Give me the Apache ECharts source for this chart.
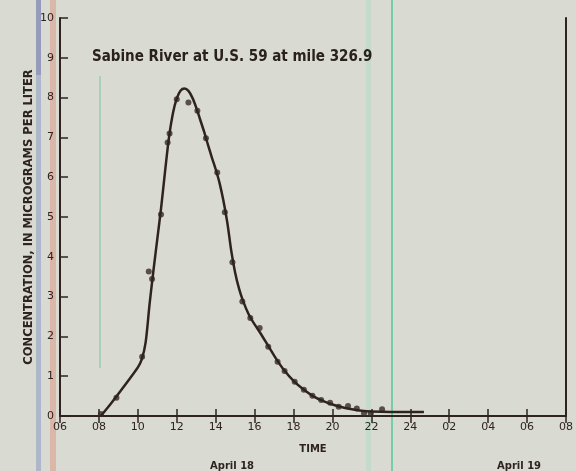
<!DOCTYPE html>
<html>
<head>
<meta charset="utf-8">
<script src="https://cdn.jsdelivr.net/npm/echarts@6/dist/echarts.min.js"></script>
<style>
  html, body { margin: 0; padding: 0; background: #d9dbd2; }
  #chart { width: 576px; height: 471px; }
</style>
</head>
<body>
<div id="chart"></div>
<script>
// hours counted from midnight April 18 (24+ = April 19)
const xTickLabels = ['06', '08', '10', '12', '14', '16', '18', '20', '22', '24', '02', '04', '06', '08'];
const yTickLabels = ['0', '1', '2', '3', '4', '5', '6', '7', '8', '9', '10'];

// sampled points (dots)
const sampleHours = [8.1, 8.9, 10.22, 10.56, 10.73, 11.19, 11.53, 11.63, 12.0, 12.6, 13.06, 13.5,
  14.08, 14.47, 14.86, 15.37, 15.78, 16.26, 16.7, 17.18, 17.54, 18.06, 18.53, 18.97, 19.42,
  19.88, 20.32, 20.8, 21.25, 21.62, 21.97, 22.55];
const sampleConc = [0.05, 0.46, 1.49, 3.63, 3.44, 5.06, 6.87, 7.1, 7.96, 7.88, 7.67, 6.98,
  6.12, 5.12, 3.86, 2.88, 2.46, 2.21, 1.74, 1.36, 1.13, 0.86, 0.66, 0.51, 0.4,
  0.33, 0.23, 0.25, 0.19, 0.07, 0.07, 0.17];

// fitted curve (hand drawn line)
const curveHours = [8.1, 8.6, 9.1, 9.6, 10.0, 10.2, 10.4, 10.6, 10.8, 11.0, 11.2, 11.4, 11.6, 11.8,
  12.0, 12.2, 12.4, 12.6, 12.8, 13.0, 13.2, 13.4, 13.6, 13.8, 14.0, 14.2, 14.4, 14.6, 14.8,
  15.0, 15.2, 15.4, 15.7, 16.0, 16.3, 16.7, 17.1, 17.5, 18.0, 18.5, 19.0, 19.5, 20.0, 20.5,
  21.0, 21.5, 22.0, 23.0, 24.7];
const curveConc = [0, 0.3, 0.62, 0.95, 1.22, 1.42, 1.85, 2.8, 3.65, 4.45, 5.25, 6.15, 7.0, 7.6,
  7.98, 8.18, 8.23, 8.17, 8.0, 7.75, 7.45, 7.15, 6.82, 6.5, 6.2, 5.85, 5.4, 4.85, 4.15,
  3.6, 3.2, 2.9, 2.55, 2.3, 2.08, 1.76, 1.44, 1.16, 0.88, 0.67, 0.5, 0.38, 0.29, 0.22,
  0.17, 0.13, 0.11, 0.1, 0.1];

const ink = '#2f2320';
const chart = echarts.init(document.getElementById('chart'));

chart.setOption({
  backgroundColor: '#d9dbd2',
  animation: false,
  grid: { left: 60, right: 5, top: 18, bottom: 55 },
  title: {
    text: 'Sabine River at U.S. 59 at mile 326.9',
    left: 92, top: 50, padding: 0,
    textStyle: { fontFamily: "'DejaVu Sans Condensed', 'DejaVu Sans', sans-serif", fontSize: 15, fontWeight: 'bold', color: '#2a201d' }
  },
  xAxis: [{
    type: 'value', min: 6, max: 32, interval: 2,
    name: 'TIME', nameLocation: 'middle', nameGap: 28,
    nameTextStyle: { fontFamily: 'DejaVu Sans', fontSize: 10, fontWeight: 'bold', color: ink },
    axisLine: { lineStyle: { color: ink, width: 2 } },
    axisTick: { inside: true, length: 7, lineStyle: { color: ink, width: 1.5 } },
    splitLine: { show: false },
    axisLabel: {
      color: ink, fontFamily: 'DejaVu Sans', fontSize: 11, margin: 6,
      formatter: v => xTickLabels[Math.round((v - 6) / 2)]
    }
  }, {
    type: 'value', min: 6, max: 32, interval: 2, position: 'top',
    axisLine: { lineStyle: { color: ink, width: 2 } },
    axisTick: { inside: true, length: 7, lineStyle: { color: ink, width: 1.5 } },
    axisLabel: { show: false },
    splitLine: { show: false }
  }],
  yAxis: [{
    type: 'value', min: 0, max: 10, interval: 1,
    name: 'CONCENTRATION, IN MICROGRAMS PER LITER',
    nameLocation: 'middle', nameGap: 25, nameRotate: 90, nameMoveOverlap: false,
    nameTextStyle: { fontFamily: 'DejaVu Sans', fontSize: 11.5, fontWeight: 'bold', color: ink },
    axisLine: { lineStyle: { color: ink, width: 2 } },
    axisTick: { inside: true, length: 8, lineStyle: { color: ink, width: 1.5 } },
    splitLine: { show: false },
    axisLabel: {
      color: ink, fontFamily: 'DejaVu Sans', fontSize: 11, margin: 6,
      formatter: v => yTickLabels[Math.round(v)]
    }
  }, {
    type: 'value', min: 0, max: 10, interval: 1, position: 'right',
    axisLine: { lineStyle: { color: ink, width: 2 } },
    axisTick: { show: false },
    axisLabel: { show: false },
    splitLine: { show: false }
  }],
  graphic: [
    { type: 'rect', left: 36, top: 0, shape: { width: 5, height: 471 }, style: { fill: 'rgba(120,140,190,0.45)' }, silent: true },
    { type: 'rect', left: 36, top: 0, shape: { width: 5, height: 75 }, style: { fill: 'rgba(110,100,160,0.35)' }, silent: true },
    { type: 'rect', left: 50, top: 0, shape: { width: 6, height: 471 }, style: { fill: 'rgba(220,140,120,0.45)' }, silent: true },
    { type: 'rect', left: 99, top: 76, shape: { width: 2, height: 292 }, style: { fill: 'rgba(110,190,170,0.45)' }, silent: true },
    { type: 'rect', left: 366, top: 0, shape: { width: 5, height: 471 }, style: { fill: 'rgba(150,220,190,0.3)' }, silent: true },
    { type: 'rect', left: 391, top: 0, shape: { width: 2, height: 471 }, style: { fill: 'rgba(60,200,140,0.65)' }, silent: true },
    { type: 'text', left: 210, top: 461, style: { text: 'April 18', font: 'bold 10px DejaVu Sans', fill: ink } },
    { type: 'text', left: 497, top: 461, style: { text: 'April 19', font: 'bold 10px DejaVu Sans', fill: ink } }
  ],
  series: [{
    type: 'line',
    data: curveHours.map((h, i) => [h, curveConc[i]]),
    smooth: 0.3,
    showSymbol: false,
    lineStyle: { color: ink, width: 2.5 }
  }, {
    type: 'scatter',
    data: sampleHours.map((h, i) => [h, sampleConc[i]]),
    symbolSize: 6,
    itemStyle: { color: '#3a2a26' }
  }]
});
</script>
</body>
</html>
